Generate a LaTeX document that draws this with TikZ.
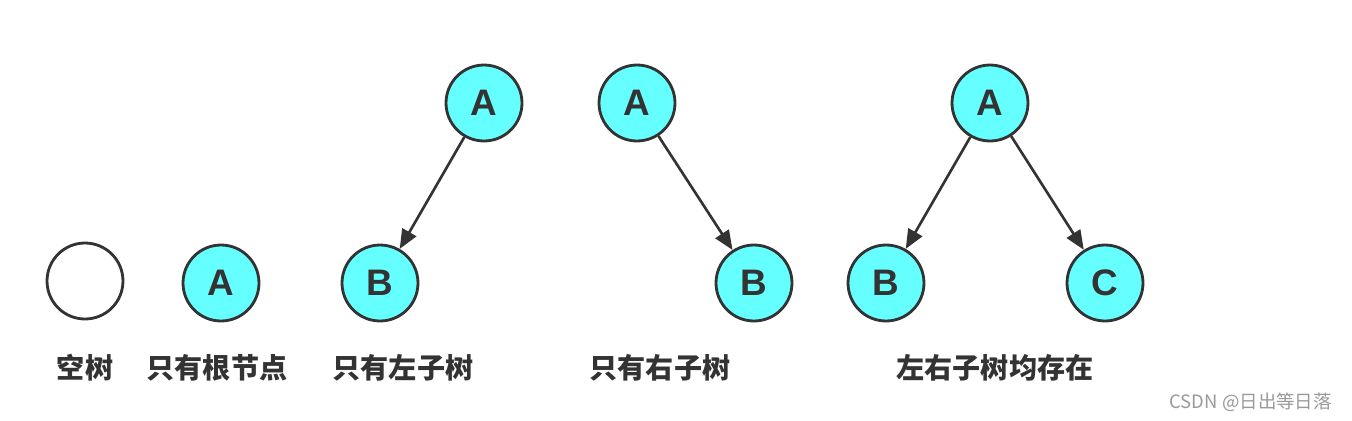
\documentclass[tikz,border=0pt]{standalone}
\usepackage{fontspec}
\setmainfont{Liberation Sans}
\newfontfamily\cjk{Noto Sans CJK SC}
\usetikzlibrary{arrows.meta}

\definecolor{nodecyan}{HTML}{66FFFF}
\definecolor{edgegray}{HTML}{333333}

\tikzset{
    treenode/.style={circle, draw=edgegray, line width=1.6pt, fill=nodecyan,
        minimum size=1.52cm, inner sep=0pt, font=\fontsize{21}{21}\selectfont\bfseries, text=edgegray},
    emptynode/.style={treenode, fill=white},
    treeedge/.style={line width=1.5pt, draw=edgegray, -{Triangle[length=11pt, width=9pt]}},
    caption/.style={font=\cjk\fontsize{16}{16}\selectfont\bfseries, text=edgegray}
}

\begin{document}
\begin{tikzpicture}[x=0.02cm, y=-0.02cm]
    \useasboundingbox (0, 0) rectangle (1352, 420);

    % empty tree
    \node[emptynode] (empty) at (85, 281) {};
    \node[caption] (capempty) at (85, 368) {空树};

    % root only
    \node[treenode] (rootA) at (221, 283) {A};
    \node[caption] (caproot) at (217, 368) {只有根节点};

    % left subtree only
    \node[treenode] (leftA) at (484, 103) {A};
    \node[treenode] (leftB) at (380, 283) {B};
    \draw[treeedge] (leftA) -- (leftB);
    \node[caption] (capleft) at (403, 368) {只有左子树};

    % right subtree only
    \node[treenode] (rightA) at (637, 103) {A};
    \node[treenode] (rightB) at (754, 283) {B};
    \draw[treeedge] (rightA) -- (rightB);
    \node[caption] (capright) at (660, 368) {只有右子树};

    % both subtrees
    \node[treenode] (fullA) at (990, 103) {A};
    \node[treenode] (fullB) at (886, 283) {B};
    \node[treenode] (fullC) at (1105, 283) {C};
    \draw[treeedge] (fullA) -- (fullB);
    \draw[treeedge] (fullA) -- (fullC);
    \node[caption] (capfull) at (995, 368) {左右子树均存在};

    % watermark
    \node[font=\cjk\fontsize{10.5}{10.5}\selectfont, text=gray!80, anchor=east] (mark) at (1338, 402) {CSDN @日出等日落};
\end{tikzpicture}
\end{document}
